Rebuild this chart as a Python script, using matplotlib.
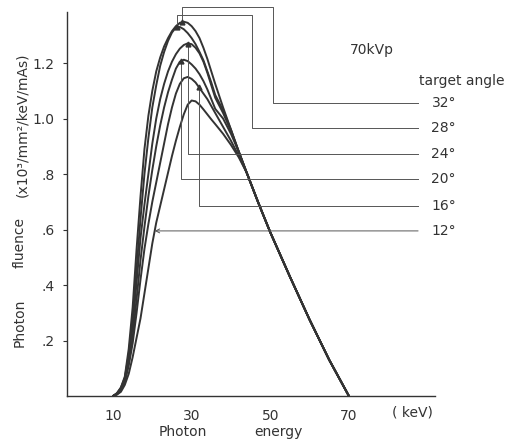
import numpy as np
import matplotlib.pyplot as plt

# photon energy grid (keV)
energy = [10, 11, 12, 13, 14, 15, 16, 17, 18, 19, 20, 21, 22, 23, 24, 25, 26, 27, 28,
          29, 30, 31, 32, 33, 34, 35, 36,
          38, 40, 42, 44, 47, 50, 55, 60, 65, 70]

# photon fluence (x10^3 / mm^2 / keV / mAs) for each target angle
angles = ['32°', '28°', '24°', '20°', '16°', '12°']
fluence_32 = [0.0, 0.01, 0.03, 0.07, 0.17, 0.32, 0.53, 0.72, 0.89, 1.01, 1.10, 1.17, 1.22, 1.26,
              1.29, 1.315, 1.333, 1.345, 1.349, 1.345, 1.333, 1.315, 1.29, 1.255, 1.215, 1.17, 1.125,
              1.04, 0.96, 0.88, 0.805, 0.695, 0.59, 0.43, 0.275, 0.13, 0.0]
fluence_28 = [0.0, 0.01, 0.03, 0.065, 0.15, 0.28, 0.46, 0.64, 0.80, 0.93, 1.04, 1.12, 1.19, 1.24,
              1.28, 1.31, 1.328, 1.33, 1.322, 1.308, 1.29, 1.268, 1.24, 1.21, 1.17, 1.13, 1.085,
              1.03, 0.96, 0.88, 0.805, 0.695, 0.59, 0.43, 0.275, 0.13, 0.0]
fluence_24 = [0.0, 0.008, 0.025, 0.06, 0.14, 0.25, 0.41, 0.57, 0.69, 0.80, 0.91, 1.00, 1.07, 1.125,
              1.17, 1.205, 1.232, 1.252, 1.265, 1.271, 1.268, 1.255, 1.235, 1.205, 1.165, 1.12, 1.075,
              1.02, 0.955, 0.88, 0.805, 0.695, 0.59, 0.43, 0.275, 0.13, 0.0]
fluence_20 = [0.0, 0.007, 0.022, 0.055, 0.12, 0.21, 0.35, 0.49, 0.61, 0.72, 0.815, 0.90, 0.975, 1.04,
              1.095, 1.14, 1.18, 1.205, 1.212, 1.207, 1.195, 1.18, 1.16, 1.135, 1.105, 1.07, 1.035,
              1.0, 0.945, 0.88, 0.805, 0.695, 0.59, 0.43, 0.275, 0.13, 0.0]
fluence_16 = [0.0, 0.006, 0.02, 0.05, 0.11, 0.19, 0.30, 0.42, 0.53, 0.62, 0.70, 0.77, 0.84, 0.91,
              0.98, 1.04, 1.09, 1.125, 1.145, 1.15, 1.143, 1.13, 1.11, 1.09, 1.07, 1.045, 1.02,
              0.97, 0.92, 0.865, 0.805, 0.695, 0.59, 0.43, 0.275, 0.13, 0.0]
fluence_12 = [0.0, 0.005, 0.015, 0.04, 0.08, 0.14, 0.21, 0.28, 0.37, 0.46, 0.55, 0.625, 0.685, 0.745,
              0.805, 0.865, 0.92, 0.97, 1.015, 1.05, 1.065, 1.062, 1.05, 1.033, 1.015, 0.997, 0.98,
              0.945, 0.905, 0.86, 0.805, 0.695, 0.59, 0.43, 0.275, 0.13, 0.0]
spectra = [fluence_32, fluence_28, fluence_24, fluence_20, fluence_16, fluence_12]

# leader line layout: where each line leaves its curve and the level of its label
anchor_kev = [27.6, 26.2, 29.2, 27.3, 31.9, None]
label_level = [1.056, 0.966, 0.872, 0.782, 0.685, 0.595]
detour = {0: (1.402, 50.7), 1: (1.373, 45.4)}   # top level, drop-down energy
line_end = 87.6
label_x = 91.0

ink = '#333333'
thin = '#555555'
fs = 10

fig = plt.figure(figsize=(5.13, 4.41), dpi=100)
ax = fig.add_axes([67 / 513, 1 - 396 / 441, 368 / 513, 384 / 441])

for f in spectra:
    ax.plot(energy, f, color=ink, lw=1.4, solid_capstyle='round', solid_joinstyle='round')

for i, f in enumerate(spectra):
    lvl = label_level[i]
    if anchor_kev[i] is None:
        # arrow onto the rising side of the curve
        top = int(np.argmax(f))
        tip = np.interp(lvl, f[:top + 1], energy[:top + 1])
        ax.annotate('', xy=(tip, lvl), xytext=(line_end, lvl),
                    arrowprops=dict(arrowstyle='->', color=thin, lw=0.7,
                                    shrinkA=0, shrinkB=0, mutation_scale=7))
    else:
        x0 = anchor_kev[i]
        y0 = np.interp(x0, energy, f)
        if i in detour:
            ytop, xdrop = detour[i]
            xs = [x0, x0, xdrop, xdrop, line_end]
            ys = [y0, ytop, ytop, lvl, lvl]
        else:
            xs = [x0, x0, line_end]
            ys = [y0, lvl, lvl]
        ax.plot(xs, ys, color=thin, lw=0.7, clip_on=False)
        ax.plot([x0], [y0], marker='^', ms=3.5, color=ink, clip_on=False)
    ax.text(label_x, lvl, angles[i], fontsize=fs, color=ink,
            ha='left', va='center', clip_on=False)

ax.text(75.9, 1.247, '70kVp', fontsize=fs, color=ink, ha='center', va='center')
ax.text(98.6, 1.135, 'target angle', fontsize=fs, color=ink, ha='center', va='center',
        clip_on=False)

ax.set_xlim(-1.7, 91.9)
ax.set_ylim(0, 1.384)
for side in ['top', 'right']:
    ax.spines[side].set_visible(False)
for side in ['left', 'bottom']:
    ax.spines[side].set_color(ink)
    ax.spines[side].set_linewidth(1.0)

ax.set_xticks([10, 30, 50, 70])
ax.set_xticklabels(['10', '30', '50', '70'])
ax.set_yticks([0.2, 0.4, 0.6, 0.8, 1.0, 1.2])
ax.set_yticklabels(['.2', '.4', '.6', '.8', '1.0', '1.2'])
ax.tick_params(axis='x', length=0, pad=9, labelsize=fs, labelcolor=ink)
ax.tick_params(axis='y', direction='out', length=3, width=0.8, color=ink, pad=6,
               labelsize=fs, labelcolor=ink)

# axis titles
fig.text(412 / 513, 1 - 413 / 441, '( keV)', fontsize=fs, color=ink, ha='center', va='center')
fig.text(183 / 513, 1 - 432 / 441, 'Photon', fontsize=fs, color=ink, ha='center', va='center')
fig.text(278 / 513, 1 - 432 / 441, 'energy', fontsize=fs, color=ink, ha='center', va='center')
fig.text(20 / 513, 1 - 323 / 441, 'Photon', fontsize=fs, color=ink, rotation=90,
         ha='center', va='center')
fig.text(20 / 513, 1 - 243 / 441, 'fluence', fontsize=fs, color=ink, rotation=90,
         ha='center', va='center')
fig.text(22 / 513, 1 - 125 / 441, '(x10³/mm²/keV/mAs)', fontsize=fs, color=ink, rotation=90,
         ha='center', va='center')

fig.savefig('out.png', dpi=100)
